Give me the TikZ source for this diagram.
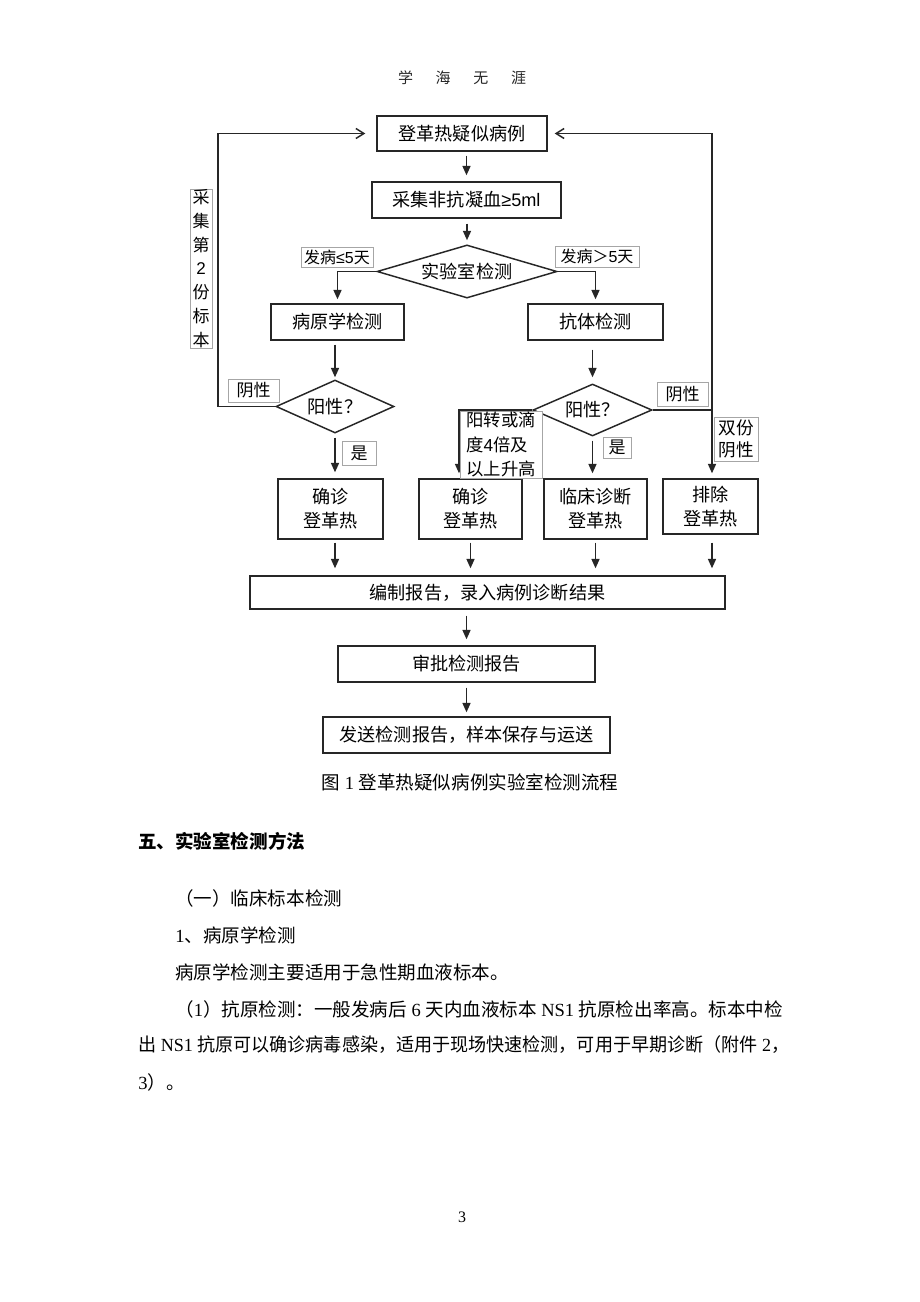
\documentclass[tikz,border=0pt]{standalone}
\usepackage{fontspec}
\setmainfont{Liberation Serif}
\newfontfamily\cjkf{Noto Sans CJK SC}
\newfontfamily\latf{Liberation Sans}
\usetikzlibrary{shapes.geometric,arrows.meta,calc}
\begin{document}
\begin{tikzpicture}[x=0.75pt,y=-0.75pt,
  sz/.style 2 args={minimum width=#1*0.75pt,minimum height=#2*0.75pt},
  sh/.style 2 args={shorten <=#1*0.75pt,shorten >=#2*0.75pt},
  box/.style={draw=black!85,line width=1.1pt,inner sep=0pt,align=center,
    font=\cjkf\fontsize{13.6}{18}\selectfont},
  dia/.style={shape=diamond,aspect=2.5,draw=black!85,line width=1.1pt,inner sep=0pt,
    font=\cjkf\fontsize{13.6}{18}\selectfont},
  lab/.style={draw=black!35,line width=0.5pt,fill=white,inner sep=0pt,align=center,
    font=\cjkf\fontsize{12.75}{17}\selectfont},
  arr/.style={line width=1.1pt,draw=black!85,-{Triangle[length=7pt,width=6pt]}},
  oarr/.style={line width=1.1pt,draw=black!85,-{Straight Barb[length=6pt,width=7.5pt]}},
  body/.style={inner sep=0pt,font=\fontsize{13.9}{16}\selectfont}]
\fill[white] (0,0) rectangle (920,1302);
\useasboundingbox (0,0) rectangle (920,1302);

% header
\node[font=\cjkf\fontsize{11.25}{13}\selectfont,text=black!85] (hdr) at (462,78)
  {学\hspace{17pt}海\hspace{17pt}无\hspace{17pt}涯};

% boxes
\node[box,sz={170}{35}] (b1) at (462,133.5) {登革热疑似病例};
\node[box,sz={189}{36}] (b2) at (466.5,200) {采集非抗凝血{\latf ≥5ml}};
\node[dia,sz={180}{51}] (d1) at (467,271.5) {实验室检测};
\node[box,sz={133}{36}] (b3) at (337.5,322) {病原学检测};
\node[box,sz={135}{36}] (b4) at (595.5,322) {抗体检测};
\node[dia,sz={118}{53}] (d2) at (335,406.5) {阳性？};
\node[dia,sz={119}{52}] (d3) at (592.5,410) {阳性？};
\node[box,sz={105}{60}] (b5) at (330.5,509) {确诊\\登革热};
\node[box,sz={103}{60}] (b6) at (470.5,509) {确诊\\登革热};
\node[box,sz={103}{60}] (b7) at (595.5,509) {临床诊断\\登革热};
\node[box,sz={95}{55}] (b8) at (710.5,506.5) {排除\\登革热};
\node[box,sz={475}{33}] (b9) at (487.5,592.5) {编制报告，录入病例诊断结果};
\node[box,sz={257}{36}] (b10) at (466.5,664) {审批检测报告};
\node[box,sz={287}{36}] (b11) at (466.5,735) {发送检测报告，样本保存与运送};

\coordinate (m1) at (459,410);
\coordinate (r1) at (712,410);
\coordinate (lft) at (218,0);

% connectors
\draw[arr,sh={4}{6}] (b1.south -| b2.north) -- (b2.north);
\draw[arr,sh={5}{4}] (b2.south -| d1.north) -- (d1.north);
\draw[arr,sh={0}{4}] (d1.west) -| (b3.north);
\draw[arr,sh={0}{4}] (d1.east) -| (b4.north);
\draw[arr,sh={4}{2}] (b3.south -| d2.north) -- (d2.north);
\draw[arr,sh={9}{6}] (b4.south -| d3.north) -- (d3.north);
\draw[arr,sh={4}{6}] (d2.south) -- (d2.south |- b5.north);
\draw[arr,sh={4}{5}] (d3.south) -- (d3.south |- b7.north);
\draw[arr,sh={0}{5}] (d3.west) -- (m1) -- (m1 |- b6.north);
\draw[arr,sh={0}{5}] (d3.east) -- (r1) -- (r1 |- b8.north);
\draw[oarr,sh={0}{7}] (r1) -- (r1 |- b1.east) -- (b1.east);
\draw[oarr,sh={0}{11}] (d2.west) -- (d2.west -| lft) -- (lft |- b1.west) -- (b1.west);
\draw[arr,sh={3}{7}] (d2.south |- b5.south) -- (d2.south |- b9.north);
\draw[arr,sh={3}{7}] (b6.south) -- (b6.south |- b9.north);
\draw[arr,sh={3}{7}] (b7.south) -- (b7.south |- b9.north);
\draw[arr,sh={8}{7}] (r1 |- b8.south) -- (r1 |- b9.north);
\draw[arr,sh={6}{6}] (b9.south -| b10.north) -- (b10.north);
\draw[arr,sh={5}{4}] (b10.south) -- (b11.north);

% labels
\node[lab,sz={72}{20},font=\cjkf\fontsize{12}{14}\selectfont] (l1) at (337,257) {发病{\latf ≤5}天};
\node[lab,sz={84}{21},font=\cjkf\fontsize{12}{14}\selectfont] (l2) at (597,256.5) {发病＞{\latf 5}天};
\node[lab,sz={51}{23}] (l3) at (253.5,390.5) {阴性};
\node[lab,sz={51}{24}] (l4) at (682.5,394) {阴性};
\node[lab,sz={34}{24}] (l5) at (359,453) {是};
\node[lab,sz={28}{21}] (l6) at (617,447.5) {是};
\node[lab,sz={22}{159},font=\cjkf\fontsize{12.75}{17.8}\selectfont] (vl) at (201,268.5)
  {采\\集\\第\\{\latf 2}\\份\\标\\本};
\node[lab,sz={82}{67},align=left,font=\cjkf\fontsize{13}{18.4}\selectfont] (l7) at (501,444.5)
  {阳转或滴\\度{\latf 4}倍及\\以上升高};
\node[lab,sz={44}{44},font=\cjkf\fontsize{13.2}{17}\selectfont] (l8) at (736,439) {双份\\阴性};

% caption and body text
\node[body] (cap) at (470,782) {{\cjkf 图} 1 {\cjkf 登革热疑似病例实验室检测流程}};
\node[body,anchor=west] (h5) at (138,841) {\cjkf\bfseries 五、实验室检测方法};
\node[body,anchor=west] (t1) at (175,898) {\cjkf （一）临床标本检测};
\node[body,anchor=west] (t2) at (175,935) {1{\cjkf 、病原学检测}};
\node[body,anchor=west] (t3) at (175,972) {\cjkf 病原学检测主要适用于急性期血液标本。};
\node[body,anchor=west] (t4) at (175,1009)
  {{\cjkf （}1{\cjkf ）抗原检测：一般发病后} 6 {\cjkf 天内血液标本} NS1 {\cjkf 抗原检出率高。标本中检}};
\node[body,anchor=west] (t5) at (138,1045)
  {\scalebox{0.975}[1]{{\cjkf 出} NS1 {\cjkf 抗原可以确诊病毒感染，适用于现场快速检测，可用于早期诊断（附件} 2{\cjkf ，}}};
\node[body,anchor=west] (t6) at (138,1082) {3{\cjkf ）。}};
\node[font=\fontsize{12}{14}\selectfont] (pg) at (462,1217) {3};
\end{tikzpicture}
\end{document}
